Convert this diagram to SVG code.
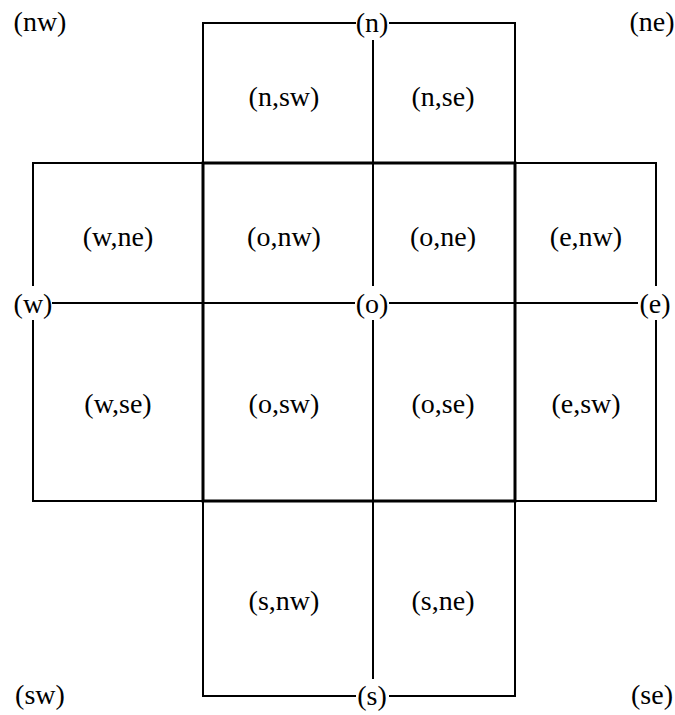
<svg xmlns="http://www.w3.org/2000/svg" width="675" height="715" viewBox="0 0 675 715">
<style>
.thin{fill:none;stroke:#000;stroke-width:2}
.thick{fill:none;stroke:#000;stroke-width:3}
text{font-family:"Liberation Serif","DejaVu Serif",serif;font-size:28px;text-anchor:middle;fill:#000}
.bg{fill:#fff}
</style>
<rect width="675" height="715" fill="#fff"/>
<g id="connectors">
<path class="thin" d="M203,163 V23 H515 V163"/>
<path class="thin" d="M203,501 V696 H515 V501"/>
<path class="thin" d="M203,163 H33 V501 H203"/>
<path class="thin" d="M515,163 H656 V501 H515"/>
<path class="thin" d="M373,23 V696"/>
<path class="thin" d="M33,303 H656"/>
<rect class="thick" x="203" y="163" width="312" height="338"/>
</g>
<g id="n"><rect class="bg" x="356" y="6" width="33" height="34"/><text x="372" y="32">(n)</text></g>
<g id="s"><rect class="bg" x="356" y="679" width="33" height="34"/><text x="372" y="705">(s)</text></g>
<g id="w"><rect class="bg" x="15" y="286" width="37" height="34"/><text x="33" y="313">(w)</text></g>
<g id="e"><rect class="bg" x="638" y="286" width="34" height="34"/><text x="655" y="313">(e)</text></g>
<g id="o"><rect class="bg" x="355" y="286" width="34" height="34"/><text x="372" y="313">(o)</text></g>
<g id="nw"><text x="40" y="31">(nw)</text></g>
<g id="ne"><text x="652" y="31">(ne)</text></g>
<g id="sw"><text x="40" y="704">(sw)</text></g>
<g id="se"><text x="652" y="704">(se)</text></g>
<g id="n_sw"><text x="284" y="106">(n,sw)</text></g>
<g id="n_se"><text x="443" y="106">(n,se)</text></g>
<g id="w_ne"><text x="118" y="246">(w,ne)</text></g>
<g id="o_nw"><text x="284" y="246">(o,nw)</text></g>
<g id="o_ne"><text x="443" y="246">(o,ne)</text></g>
<g id="e_nw"><text x="586" y="246">(e,nw)</text></g>
<g id="w_se"><text x="118" y="413">(w,se)</text></g>
<g id="o_sw"><text x="284" y="413">(o,sw)</text></g>
<g id="o_se"><text x="443" y="413">(o,se)</text></g>
<g id="e_sw"><text x="586" y="413">(e,sw)</text></g>
<g id="s_nw"><text x="284" y="610">(s,nw)</text></g>
<g id="s_ne"><text x="443" y="610">(s,ne)</text></g>
</svg>
